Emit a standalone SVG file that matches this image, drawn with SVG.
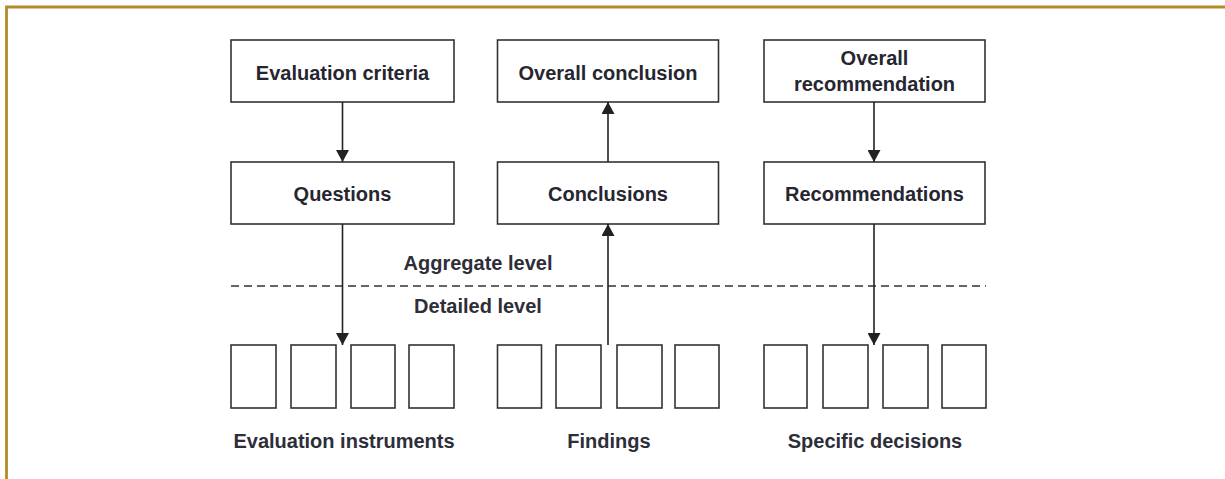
<svg xmlns="http://www.w3.org/2000/svg" width="1225" height="479" viewBox="0 0 1225 479">
  <style>
    .box { fill: #ffffff; stroke: #333333; stroke-width: 1.6; }
    .lbl { font-family: "Liberation Sans", Arial, sans-serif; font-size: 20px; font-weight: bold; fill: #262630; text-anchor: middle; }
    .cap { font-family: "Liberation Sans", Arial, sans-serif; font-size: 20px; font-weight: bold; fill: #2e2e38; text-anchor: middle; }
    .link { stroke: #222222; stroke-width: 1.6; fill: none; }
    .dash { stroke: #333333; stroke-width: 1.4; stroke-dasharray: 8 5; fill: none; }
    .frame { stroke: #B38B28; stroke-width: 2.8; fill: none; }
  </style>
  <defs>
    <marker id="arrow" viewBox="0 0 12 13" refX="12" refY="6.5" markerWidth="12" markerHeight="13" markerUnits="userSpaceOnUse" orient="auto">
      <path d="M0,0 L12,6.5 L0,13 Z" fill="#222222"/>
    </marker>
  </defs>

  <!-- page frame: top and left rules -->
  <path class="frame" d="M6.5,479 L6.5,7 L1225,7"/>

  <!-- aggregate / detailed divider -->
  <line class="dash" x1="231" y1="286" x2="986" y2="286"/>
  <text class="cap" x="478" y="270">Aggregate level</text>
  <text class="cap" x="478" y="313">Detailed level</text>

  <!-- column 1: criteria to instruments -->
  <g id="evaluation-criteria">
    <rect class="box" x="231" y="40" width="223" height="62"/>
    <text class="lbl" x="342.5" y="80">Evaluation criteria</text>
  </g>
  <g id="questions">
    <rect class="box" x="231" y="162" width="223" height="62"/>
    <text class="lbl" x="342.5" y="201">Questions</text>
  </g>
  <g id="evaluation-instruments">
    <rect class="box" x="231" y="345" width="45" height="63"/>
    <rect class="box" x="291" y="345" width="45" height="63"/>
    <rect class="box" x="351" y="345" width="44" height="63"/>
    <rect class="box" x="409" y="345" width="45" height="63"/>
    <text class="cap" x="344" y="448">Evaluation instruments</text>
  </g>

  <!-- column 2: findings to overall conclusion -->
  <g id="overall-conclusion">
    <rect class="box" x="497.5" y="40" width="221" height="62"/>
    <text class="lbl" x="608" y="80">Overall conclusion</text>
  </g>
  <g id="conclusions">
    <rect class="box" x="497.5" y="162" width="221" height="62"/>
    <text class="lbl" x="608" y="201">Conclusions</text>
  </g>
  <g id="findings">
    <rect class="box" x="497.5" y="345" width="44" height="63"/>
    <rect class="box" x="556" y="345" width="45" height="63"/>
    <rect class="box" x="617" y="345" width="45" height="63"/>
    <rect class="box" x="675" y="345" width="44" height="63"/>
    <text class="cap" x="609" y="448">Findings</text>
  </g>

  <!-- column 3: overall recommendation to decisions -->
  <g id="overall-recommendation">
    <rect class="box" x="764" y="40" width="221" height="62"/>
    <text class="lbl" x="874.5" y="65">Overall</text>
    <text class="lbl" x="874.5" y="91">recommendation</text>
  </g>
  <g id="recommendations">
    <rect class="box" x="764" y="162" width="221" height="62"/>
    <text class="lbl" x="874.5" y="201">Recommendations</text>
  </g>
  <g id="specific-decisions">
    <rect class="box" x="764" y="345" width="43" height="63"/>
    <rect class="box" x="823" y="345" width="45" height="63"/>
    <rect class="box" x="883" y="345" width="45" height="63"/>
    <rect class="box" x="942" y="345" width="44" height="63"/>
    <text class="cap" x="875" y="448">Specific decisions</text>
  </g>

  <g id="connectors">
    <line class="link" x1="342.5" y1="102" x2="342.5" y2="162" marker-end="url(#arrow)"/>
    <line class="link" x1="342.5" y1="224" x2="342.5" y2="345" marker-end="url(#arrow)"/>
    <line class="link" x1="608" y1="162" x2="608" y2="102" marker-end="url(#arrow)"/>
    <line class="link" x1="608" y1="345" x2="608" y2="224" marker-end="url(#arrow)"/>
    <line class="link" x1="874" y1="102" x2="874" y2="162" marker-end="url(#arrow)"/>
    <line class="link" x1="874" y1="224" x2="874" y2="345" marker-end="url(#arrow)"/>
  </g>
</svg>
